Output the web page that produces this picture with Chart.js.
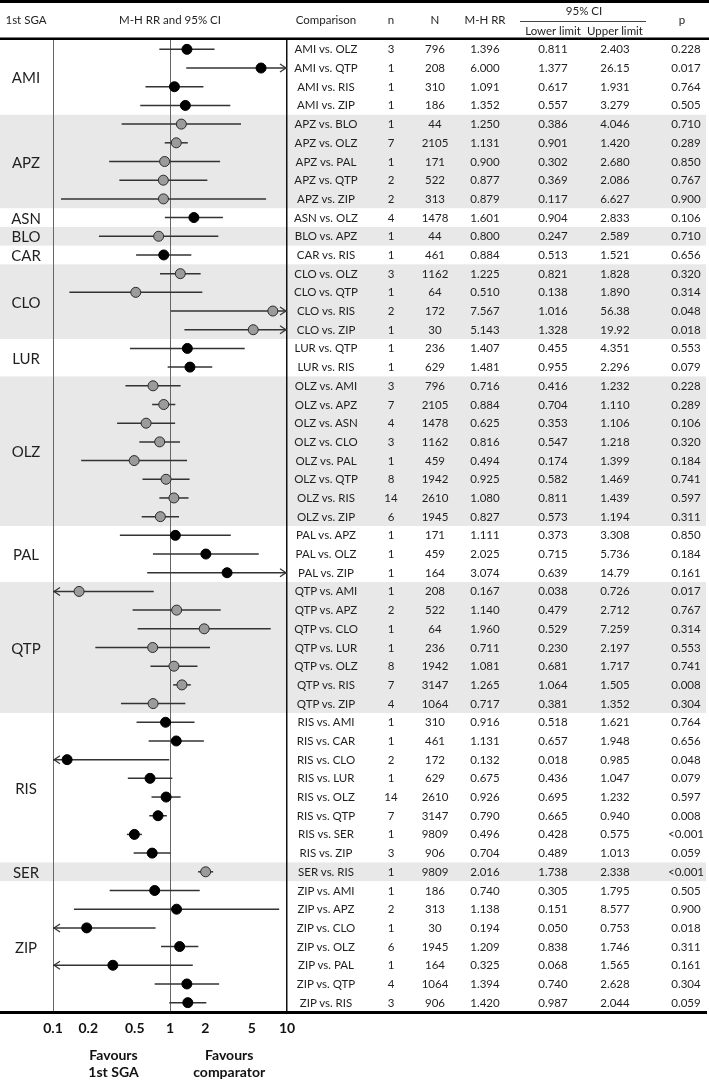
<!DOCTYPE html>
<html><head><meta charset="utf-8">
<script src="https://cdn.jsdelivr.net/npm/chart.js@4.4.1/dist/chart.umd.min.js"></script>
<style>
html,body{margin:0;padding:0;background:#fff;}
#wrap{position:relative;width:709px;height:1081px;overflow:hidden;font-family:Lato,"Open Sans",sans-serif;color:#1f1f1f;}
#c{position:absolute;left:0;top:0;}
.t{position:absolute;transform:translate(-50%,-50%);white-space:nowrap;font-size:11.5px;line-height:1;}
.g{font-size:15px;}
.b{font-weight:bold;font-size:14px;color:#111;}
</style></head><body>
<div id="wrap"><canvas id="c" width="709" height="1081"></canvas></div>
<script>
// ---------- data ----------
const groups = ['AMI','APZ','ASN','BLO','CAR','CLO','LUR','OLZ','PAL','QTP','RIS','SER','ZIP'];
const groupSizes = [4,5,1,1,1,4,2,8,3,7,8,1,7];
const comparisons = [
 'AMI vs. OLZ','AMI vs. QTP','AMI vs. RIS','AMI vs. ZIP',
 'APZ vs. BLO','APZ vs. OLZ','APZ vs. PAL','APZ vs. QTP','APZ vs. ZIP',
 'ASN vs. OLZ','BLO vs. APZ','CAR vs. RIS',
 'CLO vs. OLZ','CLO vs. QTP','CLO vs. RIS','CLO vs. ZIP',
 'LUR vs. QTP','LUR vs. RIS',
 'OLZ vs. AMI','OLZ vs. APZ','OLZ vs. ASN','OLZ vs. CLO','OLZ vs. PAL','OLZ vs. QTP','OLZ vs. RIS','OLZ vs. ZIP',
 'PAL vs. APZ','PAL vs. OLZ','PAL vs. ZIP',
 'QTP vs. AMI','QTP vs. APZ','QTP vs. CLO','QTP vs. LUR','QTP vs. OLZ','QTP vs. RIS','QTP vs. ZIP',
 'RIS vs. AMI','RIS vs. CAR','RIS vs. CLO','RIS vs. LUR','RIS vs. OLZ','RIS vs. QTP','RIS vs. SER','RIS vs. ZIP',
 'SER vs. RIS',
 'ZIP vs. AMI','ZIP vs. APZ','ZIP vs. CLO','ZIP vs. OLZ','ZIP vs. PAL','ZIP vs. QTP','ZIP vs. RIS'
];
const nStudies = [3,1,1,1, 1,7,1,2,2, 4,1,1, 3,1,2,1, 1,1, 3,7,4,3,1,8,14,6, 1,1,1, 1,2,1,1,8,7,4, 1,1,2,1,14,7,1,3, 1, 1,2,1,6,1,4,3];
const nPatients = [796,208,310,186, 44,2105,171,522,313, 1478,44,461, 1162,64,172,30, 236,629,
 796,2105,1478,1162,459,1942,2610,1945, 171,459,164, 208,522,64,236,1942,3147,1064,
 310,461,172,629,2610,3147,9809,906, 9809, 186,313,30,1945,164,1064,906];
const rr = [1.396,6.000,1.091,1.352, 1.250,1.131,0.900,0.877,0.879, 1.601,0.800,0.884,
 1.225,0.510,7.567,5.143, 1.407,1.481,
 0.716,0.884,0.625,0.816,0.494,0.925,1.080,0.827, 1.111,2.025,3.074,
 0.167,1.140,1.960,0.711,1.081,1.265,0.717,
 0.916,1.131,0.132,0.675,0.926,0.790,0.496,0.704, 2.016,
 0.740,1.138,0.194,1.209,0.325,1.394,1.420];
const lower = [0.811,1.377,0.617,0.557, 0.386,0.901,0.302,0.369,0.117, 0.904,0.247,0.513,
 0.821,0.138,1.016,1.328, 0.455,0.955,
 0.416,0.704,0.353,0.547,0.174,0.582,0.811,0.573, 0.373,0.715,0.639,
 0.038,0.479,0.529,0.230,0.681,1.064,0.381,
 0.518,0.657,0.018,0.436,0.695,0.665,0.428,0.489, 1.738,
 0.305,0.151,0.050,0.838,0.068,0.740,0.987];
const upper = [2.403,26.15,1.931,3.279, 4.046,1.420,2.680,2.086,6.627, 2.833,2.589,1.521,
 1.828,1.890,56.38,19.92, 4.351,2.296,
 1.232,1.110,1.106,1.218,1.399,1.469,1.439,1.194, 3.308,5.736,14.79,
 0.726,2.712,7.259,2.197,1.717,1.505,1.352,
 1.621,1.948,0.985,1.047,1.232,0.940,0.575,1.013, 2.338,
 1.795,8.577,0.753,1.746,1.565,2.628,2.044];
const pValues = ['0.228','0.017','0.764','0.505', '0.710','0.289','0.850','0.767','0.900', '0.106','0.710','0.656',
 '0.320','0.314','0.048','0.018', '0.553','0.079',
 '0.228','0.289','0.106','0.320','0.184','0.741','0.597','0.311', '0.850','0.184','0.161',
 '0.017','0.767','0.314','0.553','0.741','0.008','0.304',
 '0.764','0.656','0.048','0.079','0.597','0.008','<0.001','0.059', '<0.001',
 '0.505','0.900','0.018','0.311','0.161','0.304','0.059'];
const tickValues = [0.1,0.2,0.5,1,2,5,10];
const tickLabels = ['0.1','0.2','0.5','1','2','5','10'];

// ---------- helpers ----------
const fmt = v => v >= 10 ? v.toFixed(2) : v.toFixed(3);
const rowGroup = [];
groupSizes.forEach((s, gi) => { for (let k = 0; k < s; k++) rowGroup.push(gi); });
const shaded = gi => gi % 2 === 1;

const ciDatasets = comparisons.map((c, i) => ({
  type: 'line',
  label: c,
  data: [{x: lower[i], y: i}, {x: upper[i], y: i}],
  borderColor: '#333',
  borderWidth: 1.5,
  pointRadius: 0,
  pointHoverRadius: 0,
  fill: false,
  order: 2
}));
const pointDataset = {
  type: 'scatter',
  label: 'M-H RR',
  data: rr.map((v, i) => ({x: v, y: i})),
  pointRadius: 5,
  pointHoverRadius: 5,
  backgroundColor: rowGroup.map(g => shaded(g) ? '#9b9b9b' : '#000'),
  borderColor: rowGroup.map(g => shaded(g) ? '#2a2a2a' : '#000'),
  borderWidth: 1,
  order: 1
};

const bandPlugin = {
  id: 'bands',
  beforeDraw(chart) {
    const {ctx} = chart; const y = chart.scales.y;
    ctx.save();
    ctx.fillStyle = '#fff'; ctx.fillRect(0, 0, chart.width, chart.height);
    let start = 0;
    groupSizes.forEach((s, gi) => {
      if (shaded(gi)) {
        const y0 = y.getPixelForValue(start - 0.5), y1 = y.getPixelForValue(start + s - 0.5);
        ctx.fillStyle = '#e8e8e8';
        ctx.fillRect(0, y0, 706, y1 - y0);
      }
      start += s;
    });
    ctx.restore();
  },
  afterDatasetsDraw(chart) {
    const {ctx, chartArea} = chart; const y = chart.scales.y;
    ctx.save();
    ctx.strokeStyle = '#333'; ctx.lineWidth = 1.2;
    comparisons.forEach((c, i) => {
      const py = y.getPixelForValue(i);
      if (upper[i] > tickValues[tickValues.length - 1]) {
        const px = chartArea.right - 1;
        ctx.beginPath(); ctx.moveTo(px - 6, py - 4); ctx.lineTo(px, py); ctx.lineTo(px - 6, py + 4); ctx.stroke();
      }
      if (lower[i] < tickValues[0]) {
        const px = chartArea.left + 1;
        ctx.beginPath(); ctx.moveTo(px + 6, py - 4); ctx.lineTo(px, py); ctx.lineTo(px + 6, py + 4); ctx.stroke();
      }
    });
    ctx.restore();
  },
  afterDraw(chart) {
    const {ctx, chartArea} = chart;
    ctx.save();
    ctx.fillStyle = '#000';
    ctx.fillRect(0, 0, 709, 3);
    ctx.fillRect(0, chartArea.top - 2.5, 709, 2.5);
    ctx.fillRect(0, chartArea.bottom - 1, 707, 3);
    ctx.fillStyle = '#444';
    ctx.fillRect(520, 21, 126, 1);
    ctx.restore();
  }
};

const chart = new Chart(document.getElementById('c'), {
  type: 'scatter',
  data: {datasets: [pointDataset, ...ciDatasets]},
  options: {
    responsive: false, animation: false, devicePixelRatio: 1, events: [],
    layout: {padding: {left: 53, right: 422, top: 40, bottom: 37}},
    plugins: {legend: {display: false}, tooltip: {enabled: false}},
    scales: {
      x: {
        type: 'logarithmic', min: 0.1, max: 10, position: 'bottom',
        afterBuildTicks: s => { s.ticks = tickValues.map(v => ({value: v})); },
        afterFit: s => { s.height = 32; },
        ticks: {
          autoSkip: false, maxRotation: 0, padding: 8, color: '#111',
          font: {family: 'Lato', weight: 'bold', size: 14},
          callback: (v, idx) => tickLabels[idx]
        },
        grid: {
          drawTicks: false,
          color: c => (c.tick && [0.1, 1, 10].includes(c.tick.value)) ? (c.tick.value === 10 ? '#111' : '#666') : 'rgba(0,0,0,0)',
          lineWidth: c => (c.tick && c.tick.value === 10) ? 1.5 : 1
        },
        border: {display: false}
      },
      y: {type: 'linear', min: -0.5, max: comparisons.length - 0.5, reverse: true, display: false}
    }
  },
  plugins: [bandPlugin]
});

// ---------- table text ----------
const wrap = document.getElementById('wrap');
function addText(txt, x, y, cls) {
  const d = document.createElement('div');
  d.className = 't' + (cls ? ' ' + cls : '');
  d.textContent = txt;
  d.style.left = x + 'px'; d.style.top = y + 'px';
  wrap.appendChild(d);
}
const col = {comp: 326, n: 391, N: 435, rr: 485, lo: 553, up: 615, p: 686};
const ys = chart.scales.y, xs = chart.scales.x;
// headers
addText('1st SGA', 26, 20); addText('M-H RR and 95% CI', 170, 20);
addText('Comparison', col.comp, 20); addText('n', col.n, 20); addText('N', col.N, 20);
addText('M-H RR', col.rr, 20); addText('95% CI', 584, 11);
addText('Lower limit', col.lo, 31); addText('Upper limit', col.up, 31); addText('p', 682, 20);
// rows
comparisons.forEach((c, i) => {
  const py = ys.getPixelForValue(i);
  addText(c, col.comp, py); addText(String(nStudies[i]), col.n, py); addText(String(nPatients[i]), col.N, py);
  addText(rr[i].toFixed(3), col.rr, py); addText(fmt(lower[i]), col.lo, py); addText(fmt(upper[i]), col.up, py);
  addText(pValues[i], col.p, py);
});
// group labels
let st = 0;
groups.forEach((g, gi) => {
  const py = (ys.getPixelForValue(st - 0.5) + ys.getPixelForValue(st + groupSizes[gi] - 0.5)) / 2;
  addText(g, 26, py, 'g');
  st += groupSizes[gi];
});
// favours labels
const leftC = (xs.getPixelForValue(0.2) + xs.getPixelForValue(0.5)) / 2 + 2;
const rightC = xs.getPixelForValue(2) + 24;
addText('Favours', leftC, 1055, 'b'); addText('1st SGA', leftC, 1072, 'b');
addText('Favours', rightC, 1055, 'b'); addText('comparator', rightC, 1072, 'b');
</script>
</body></html>
